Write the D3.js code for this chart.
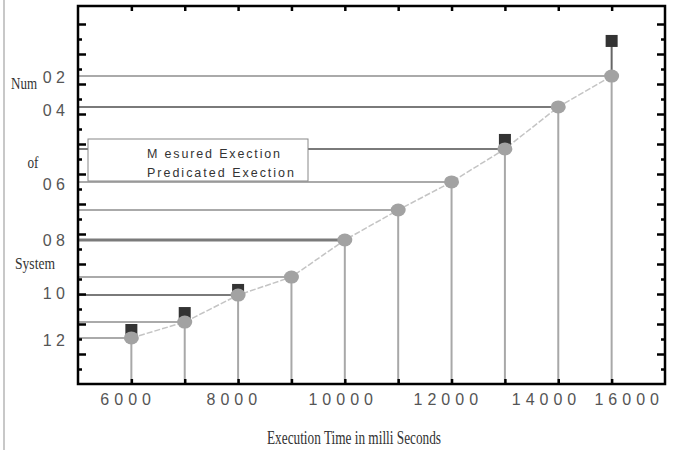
<!DOCTYPE html>
<html>
<head>
<meta charset="utf-8">
<script src="https://cdn.jsdelivr.net/npm/d3@7"></script>
<style>
  body { margin: 0; background: #fff; }
  svg { display: block; }
</style>
</head>
<body>
<div id="vis"></div>
<script>
'use strict';

var execTime = [6000, 7000, 8000, 9000, 10000, 11000, 12000, 13000, 14000, 15000];
var predicted = [3.07, 4.13, 5.93, 7.13, 9.6, 11.6, 13.47, 15.67, 18.47, 20.53];
var measured = [3.6, 4.73, 6.27, null, null, null, null, 16.27, null, 22.87];
var xTickLabels = ["6000", "8000", "10000", "12000", "14000", "16000"];
var xTickLabelAt = [5930, 7920, 9960, 11930, 13770, 15320];
var yTickLabels = ["0 2", "0 4", "0 6", "0 8", "1 0", "1 2"];
var yTickLabelAt = [20.47, 18.27, 13.33, 9.6, 6.07, 2.93];
var legendLabels = ["M esured Exection", "Predicated Exection"];

var width = 675, height = 450;
var plotL = 78, plotR = 665, plotT = 6, plotB = 384;

var svg = d3.select('#vis').append('svg')
    .attr('width', width)
    .attr('height', height);

// faint scan border on the left
svg.append('line')
    .attr('x1', 4).attr('x2', 4).attr('y1', 0).attr('y2', height)
    .style('stroke', '#c8c8c8').style('stroke-width', 2);

var x = d3.scaleLinear().domain([5000, 16000]).range([plotL, plotR]);
var y = d3.scaleLinear().domain([0, 25.2]).range([plotB, plotT]);

var points = execTime.map(function(t, i){
    return {t: t, p: predicted[i], m: measured[i], i: i};
});
var withMeas = points.filter(function(d){ return d.m != null; });

// horizontal leaders from the axis to each predicted point
var darkLeader = [2, 4, 7, 8];
svg.selectAll('.leader')
    .data(points)
  .enter().append('line')
    .attr('class', 'leader')
    .attr('x1', plotL).attr('x2', function(d){ return x(d.t); })
    .attr('y1', function(d){ return y(d.p); })
    .attr('y2', function(d){ return y(d.p); })
    .style('stroke', function(d){ return darkLeader.indexOf(d.i) >= 0 ? '#7a7a7a' : '#aaaaaa'; })
    .style('stroke-width', function(d){ return d.i == 4 ? 3 : 2; });

// vertical stems down to the axis
svg.selectAll('.stem')
    .data(points)
  .enter().append('line')
    .attr('class', 'stem')
    .attr('x1', function(d){ return x(d.t); })
    .attr('x2', function(d){ return x(d.t); })
    .attr('y1', function(d){ return y(d.p); })
    .attr('y2', plotB)
    .style('stroke', '#a8a8a8').style('stroke-width', 2);

// stem from predicted up to measured where they differ a lot
svg.selectAll('.upstem')
    .data(withMeas.filter(function(d){ return d.m - d.p > 1.5; }))
  .enter().append('line')
    .attr('class', 'upstem')
    .attr('x1', function(d){ return x(d.t); })
    .attr('x2', function(d){ return x(d.t); })
    .attr('y1', function(d){ return y(d.p); })
    .attr('y2', function(d){ return y(d.m); })
    .style('stroke', '#666').style('stroke-width', 2);

// line through predicted points
var line = d3.line()
    .x(function(d){ return x(d.t); })
    .y(function(d){ return y(d.p); });
svg.append('path')
    .datum(points)
    .attr('d', line)
    .style('fill', 'none')
    .style('stroke', '#c4c4c4')
    .style('stroke-width', 1.5)
    .style('stroke-dasharray', '6,2');

// measured squares
svg.selectAll('.meas')
    .data(withMeas)
  .enter().append('rect')
    .attr('class', 'meas')
    .attr('x', function(d){ return x(d.t) - 6; })
    .attr('y', function(d){ return y(d.m) - 6; })
    .attr('width', 12).attr('height', 12)
    .style('fill', '#333');

// predicted circles
svg.selectAll('.pred')
    .data(points)
  .enter().append('ellipse')
    .attr('class', 'pred')
    .attr('cx', function(d){ return x(d.t); })
    .attr('cy', function(d){ return y(d.p); })
    .attr('rx', 7.5).attr('ry', 6.5)
    .style('fill', '#a2a2a2');

// legend box
var lg = svg.append('g');
lg.append('rect')
    .attr('x', 88).attr('y', 139).attr('width', 220).attr('height', 42)
    .style('fill', '#fff').style('stroke', '#888').style('stroke-width', 1);
lg.selectAll('text')
    .data(legendLabels)
  .enter().append('text')
    .attr('x', 147)
    .attr('y', function(d, i){ return 158 + i * 19; })
    .attr('textLength', function(d, i){ return i == 0 ? 133 : 147; })
    .attr('lengthAdjust', 'spacing')
    .text(function(d){ return d; })
    .style('font-family', 'Liberation Sans, Arial, sans-serif')
    .style('font-size', '12.5px')
    .style('fill', '#333');

// tick marks (inside the frame)
var xTicks = execTime;
var yMajor = d3.range(2, 25, 2), yMinor = d3.range(1, 25, 2);
function noText(g){ g.selectAll('text').remove(); g.select('.domain').remove(); }
svg.append('g').attr('transform', 'translate(0,' + plotB + ')')
    .call(d3.axisTop(x).tickValues(xTicks).tickSize(5)).call(noText);
svg.append('g').attr('transform', 'translate(0,' + plotT + ')')
    .call(d3.axisBottom(x).tickValues(xTicks).tickSize(5)).call(noText);
svg.append('g').attr('transform', 'translate(' + plotL + ',0)')
    .call(d3.axisRight(y).tickValues(yMajor).tickSize(8)).call(noText);
svg.append('g').attr('transform', 'translate(' + plotL + ',0)')
    .call(d3.axisRight(y).tickValues(yMinor).tickSize(4)).call(noText);
svg.append('g').attr('transform', 'translate(' + plotR + ',0)')
    .call(d3.axisLeft(y).tickValues(yMajor).tickSize(8)).call(noText);
svg.append('g').attr('transform', 'translate(' + plotR + ',0)')
    .call(d3.axisLeft(y).tickValues(yMinor).tickSize(4)).call(noText);
svg.selectAll('.tick line').style('stroke', '#000').style('stroke-width', 2.5);

// frame
svg.append('rect')
    .attr('x', plotL).attr('y', plotT)
    .attr('width', plotR - plotL).attr('height', plotB - plotT)
    .style('fill', 'none').style('stroke', '#000').style('stroke-width', 2.5);

// tick labels
var xLab = svg.append('g').attr('transform', 'translate(0,' + plotB + ')')
    .call(d3.axisBottom(x).tickValues(xTickLabelAt).tickSize(0).tickPadding(10)
        .tickFormat(function(d, i){ return xTickLabels[i]; }));
xLab.select('.domain').remove();
xLab.selectAll('text')
    .style('font-family', 'Liberation Sans, Arial, sans-serif')
    .style('font-size', '16px')
    .style('letter-spacing', '5px')
    .style('fill', '#555');

var yLab = svg.append('g').attr('transform', 'translate(65,0)')
    .call(d3.axisLeft(y).tickValues(yTickLabelAt).tickSize(0).tickPadding(0)
        .tickFormat(function(d, i){ return yTickLabels[i]; }));
yLab.select('.domain').remove();
yLab.selectAll('text')
    .style('font-family', 'Liberation Sans, Arial, sans-serif')
    .style('font-size', '16px')
    .style('fill', '#555');

// axis titles
var serif = 'Liberation Serif, Times New Roman, serif';
svg.append('text')
    .attr('x', 354).attr('y', 444)
    .attr('text-anchor', 'middle')
    .attr('textLength', 174).attr('lengthAdjust', 'spacingAndGlyphs')
    .text('Execution Time in milli Seconds')
    .style('font-family', serif).style('font-size', '18px').style('fill', '#333');

var yTitle = [["Num", 24, 89, 26], ["of", 33, 168, 11], ["System", 35, 269, 40]];
svg.selectAll('.ytitle')
    .data(yTitle)
  .enter().append('text')
    .attr('class', 'ytitle')
    .attr('x', function(d){ return d[1]; })
    .attr('y', function(d){ return d[2]; })
    .attr('text-anchor', 'middle')
    .attr('textLength', function(d){ return d[3]; })
    .attr('lengthAdjust', 'spacingAndGlyphs')
    .text(function(d){ return d[0]; })
    .style('font-family', serif).style('font-size', '16px').style('fill', '#333');
</script>
</body>
</html>
